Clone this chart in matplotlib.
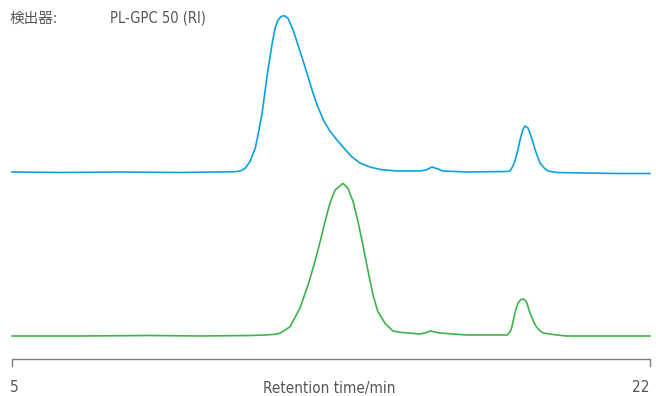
import matplotlib
matplotlib.use("Agg")
import matplotlib.pyplot as plt

# retention time (min) and detector signal (relative to its own baseline)
blue_time = [5.00, 6.28, 7.88, 9.48, 10.94, 11.08, 11.21, 11.34, 11.48, 11.55,
             11.66, 11.74, 11.82, 11.93, 12.01, 12.09, 12.17, 12.25, 12.35, 12.49,
             12.62, 12.75, 12.89, 13.02, 13.15, 13.23, 13.31, 13.47, 13.66, 13.82, 14.06,
             14.27, 14.54, 14.81, 15.26, 15.87, 16.03, 16.19, 16.35, 16.48, 17.12,
             18.19, 18.27, 18.35, 18.40, 18.48, 18.53, 18.61, 18.67, 18.75, 18.80,
             18.88, 18.94, 19.02, 19.07, 19.18, 19.28, 19.52, 20.21, 21.20, 22.00]
blue_signal = [0, -0.5, 0, -0.5, 0.3, 1, 3.7, 10.3, 23.7, 36,
               58, 80, 102, 128, 144, 152, 155.5, 156.3, 154, 142,
               127, 112, 95, 79, 65, 58, 51, 41, 32, 25, 15,
               9, 5, 2.5, 1, 1, 2, 5, 3, 1, 0,
               0.5, 1, 6, 11, 22, 31, 42, 46, 44, 39,
               30, 22, 14, 9, 4, 1, -0.5, -1, -1.5, -1.5]

green_time = [5.00, 6.81, 8.68, 10.01, 11.34, 11.74, 11.95, 12.14, 12.41, 12.67,
              12.89, 13.07, 13.21, 13.34, 13.47, 13.61, 13.82, 13.95, 14.09, 14.22,
              14.35, 14.49, 14.62, 14.75, 14.94, 15.15, 15.34, 15.87, 16.00, 16.14,
              16.27, 16.40, 17.12, 18.19, 18.27, 18.32, 18.40, 18.48, 18.56, 18.62,
              18.67, 18.72, 18.80, 18.94, 19.04, 19.15, 19.52, 19.79, 20.93, 22.00]
green_signal = [0, 0, 0.5, 0, 0.5, 1, 1.5, 2.7, 9.3, 27.7,
                51, 74.3, 94.3, 114.3, 132.7, 146, 152.7, 147.7, 134.3, 114.3,
                91, 64.3, 41, 24.3, 12.7, 5, 3.7, 2, 3, 5,
                4, 3, 1, 1, 4, 9, 23, 33, 36.5, 37,
                36, 33, 23, 11, 6, 3, 1, 0, 0, 0]

x_ticks = [5, 22]
x_label = "Retention time/min"
detector_label = "検出器:"
detector_name = "PL-GPC 50 (RI)"

plt.rcParams["font.family"] = ["DejaVu Sans", "Noto Sans CJK JP"]
plt.rcParams["font.stretch"] = "condensed"

fig = plt.figure(figsize=(6.56, 3.96), dpi=100)
ax = fig.add_axes([0, 0, 1, 1])
ax.set_xlim(4.68, 22.16)
ax.set_ylim(0, 396)
ax.axis("off")

blue_offset = 224
green_offset = 60
ax.plot(blue_time, [s + blue_offset for s in blue_signal], color="#0ca0dc", lw=1.2)
ax.plot(green_time, [s + green_offset for s in green_signal], color="#3cb44b", lw=1.2)

# bracket-style x axis
axis_y = 37
ax.plot([x_ticks[0], x_ticks[0], x_ticks[1], x_ticks[1]],
        [axis_y - 7, axis_y, axis_y, axis_y - 7], color="#808080", lw=1)
text_color = "#555555"
ax.text(4.95, 8, str(x_ticks[0]), ha="left", va="center", fontsize=11, color=text_color)
ax.text(x_ticks[1], 8, str(x_ticks[1]), ha="right", va="center", fontsize=11, color=text_color)
ax.text(13.45, 8, x_label, ha="center", va="center", fontsize=11, color=text_color)

fig.text(10 / 656, 1 - 18 / 396, detector_label, ha="left", va="center", fontsize=10.5, color=text_color)
fig.text(110 / 656, 1 - 18 / 396, detector_name, ha="left", va="center", fontsize=10.5, color=text_color)

fig.savefig("out.png", dpi=100)
